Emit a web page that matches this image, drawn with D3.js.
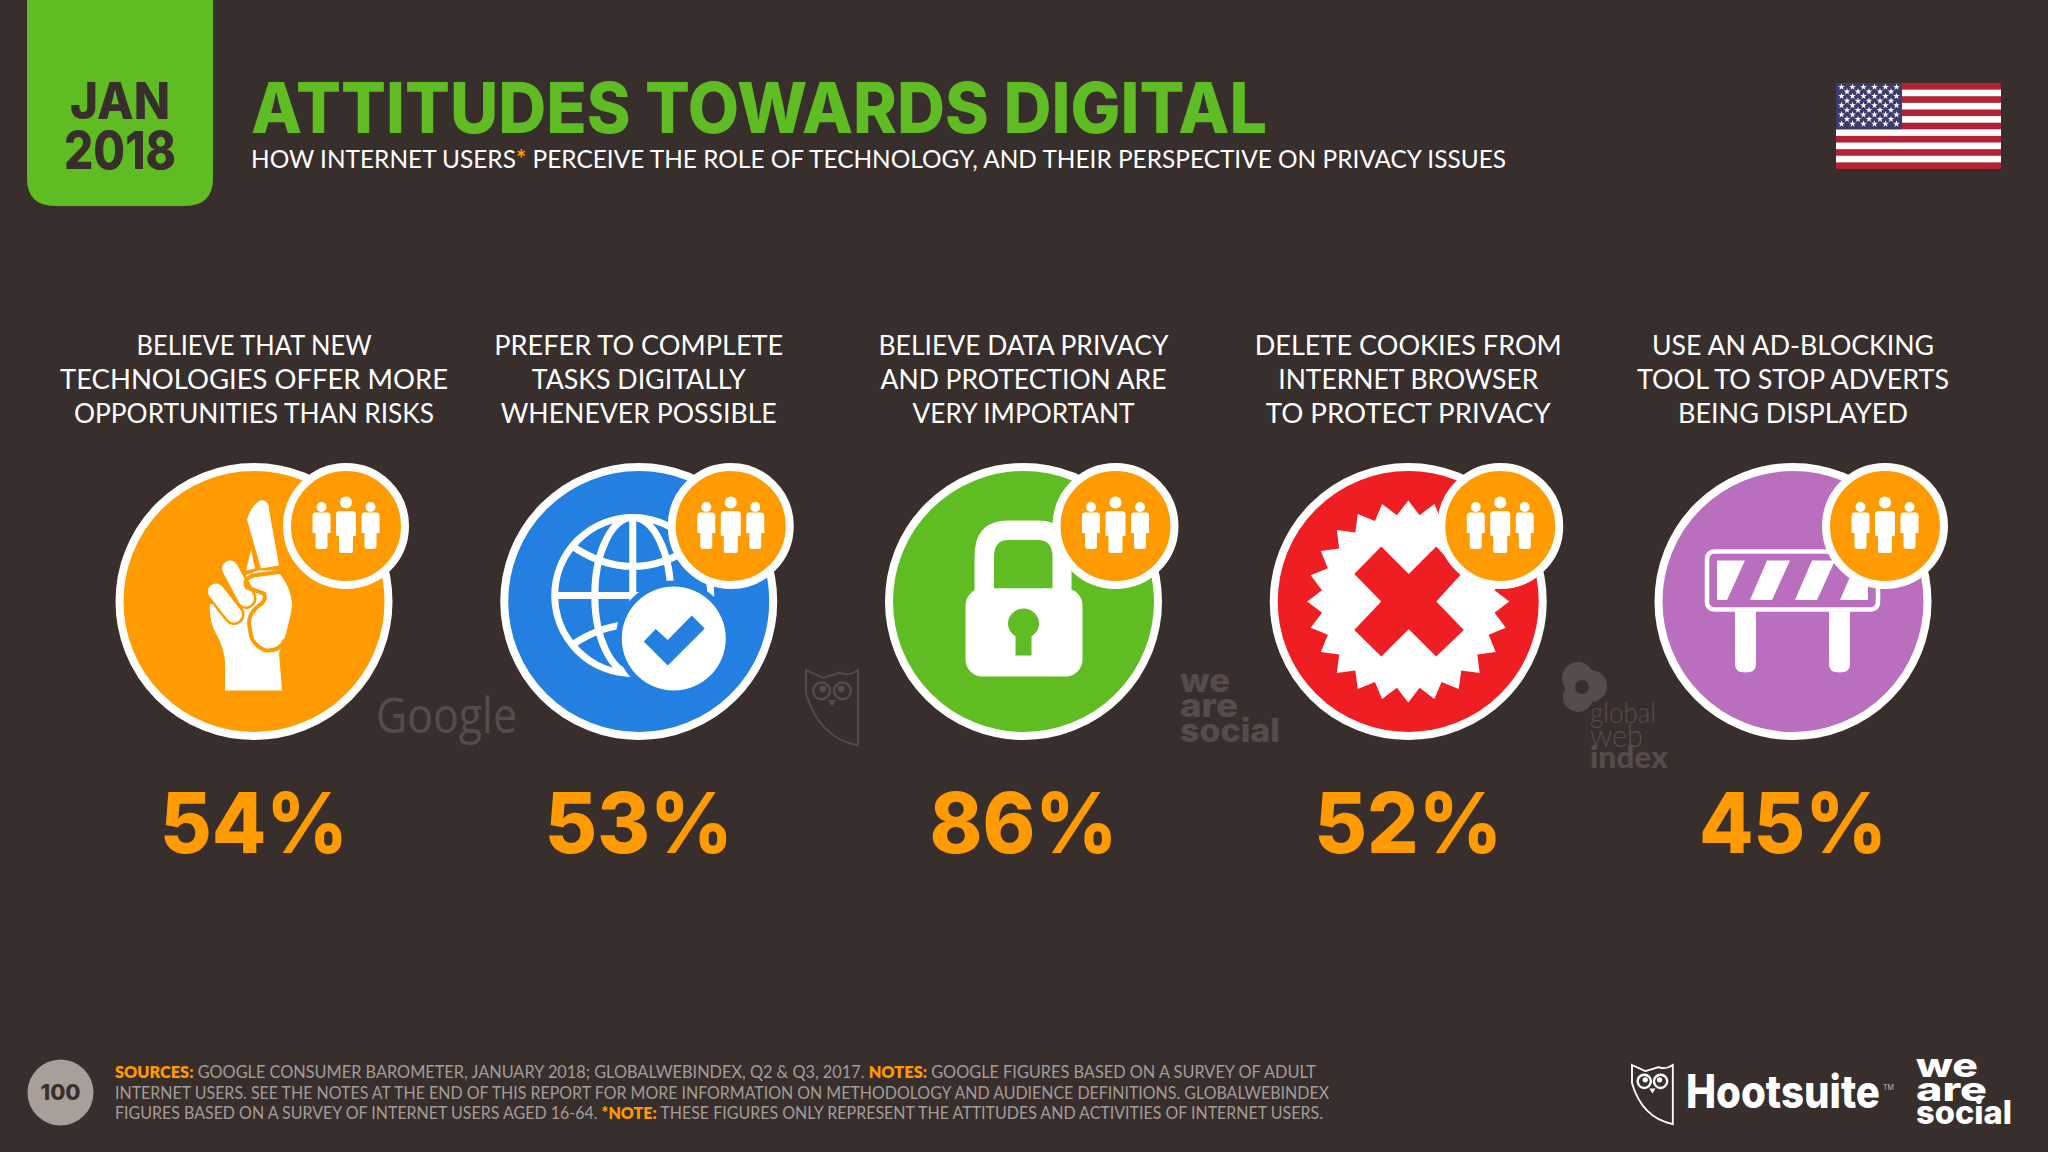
<!DOCTYPE html>
<html>
<head>
<meta charset="utf-8">
<script src="https://cdnjs.cloudflare.com/ajax/libs/d3/7.8.5/d3.min.js"></script>
<style>
html,body{margin:0;padding:0;background:#382f2d;}
svg{display:block;}
text{font-family:"Lato","Inter",sans-serif;}
</style>
</head>
<body>
<svg id="c" width="2048" height="1152"></svg>
<script>
const categories = ["believe","prefer","privacy","cookies","adblock"];
const values = [54,53,86,52,45];
const labels = [
  ["BELIEVE THAT NEW","TECHNOLOGIES OFFER MORE","OPPORTUNITIES THAN RISKS"],
  ["PREFER TO COMPLETE","TASKS DIGITALLY","WHENEVER POSSIBLE"],
  ["BELIEVE DATA PRIVACY","AND PROTECTION ARE","VERY IMPORTANT"],
  ["DELETE COOKIES FROM","INTERNET BROWSER","TO PROTECT PRIVACY"],
  ["USE AN AD-BLOCKING","TOOL TO STOP ADVERTS","BEING DISPLAYED"]
];
const labelWidths = [[235,388,360],[289,214,276],[290,286,222],[307,260,285],[282,312,230]];
const colors = ["#ff9a00","#2380e0","#5fbd23","#ee1e23","#b96fbd"];
const titleText = "ATTITUDES TOWARDS DIGITAL";
const subtitleParts = [["HOW INTERNET USERS",0],["*",1],[" PERCEIVE THE ROLE OF TECHNOLOGY, AND THEIR PERSPECTIVE ON PRIVACY ISSUES",0]];
const footerLines = [
  [["SOURCES:",1],[" GOOGLE CONSUMER BAROMETER, JANUARY 2018; GLOBALWEBINDEX, Q2 & Q3, 2017. ",0],["NOTES:",1],[" GOOGLE FIGURES BASED ON A SURVEY OF ADULT",0]],
  [["INTERNET USERS. SEE THE NOTES AT THE END OF THIS REPORT FOR MORE INFORMATION ON METHODOLOGY AND AUDIENCE DEFINITIONS. GLOBALWEBINDEX",0]],
  [["FIGURES BASED ON A SURVEY OF INTERNET USERS AGED 16-64. ",0],["*NOTE:",1],[" THESE FIGURES ONLY REPRESENT THE ATTITUDES AND ACTIVITIES OF INTERNET USERS.",0]]
];

const BG="#382f2d", GREEN="#5fbd23", ORANGE="#ff9a00", WHITE="#ffffff", MARK="#564d4b";
const svg=d3.select("#c");
svg.append("rect").attr("width",2048).attr("height",1152).attr("fill",BG);

function label(g,x,y,str,o){
  const t=g.append("text").attr("x",x).attr("y",y).text(str)
    .attr("font-size",o.size).attr("fill",o.fill||WHITE)
    .attr("font-weight",o.weight||400).attr("text-anchor",o.anchor||"start");
  if(o.family)t.style("font-family",o.family);
  if(o.len)t.attr("textLength",o.len).attr("lengthAdjust","spacingAndGlyphs");
  return t;
}
function rich(g,x,y,parts,o){
  const t=g.append("text").attr("x",x).attr("y",y).attr("font-size",o.size).attr("xml:space","preserve").style("white-space","pre");
  if(o.family)t.style("font-family",o.family);
  if(o.len)t.attr("textLength",o.len).attr("lengthAdjust","spacingAndGlyphs");
  parts.forEach(p=>t.append("tspan").text(p[0]).attr("fill",p[1]?ORANGE:o.fill)
     .attr("font-weight",p[1]?(o.hiWeight||700):(o.weight||400)));
  return t;
}

// date tab
svg.append("path").attr("fill",GREEN).attr("d","M27,0H213V178Q213,206 185,206H55Q27,206 27,178Z");
label(svg,120,119,"JAN",{size:51,fill:BG,weight:800,anchor:"middle",family:"Inter",len:100});
label(svg,120,169,"2018",{size:52,fill:BG,weight:800,anchor:"middle",family:"Inter",len:112});

// headings
label(svg,251,133,titleText,{size:70,fill:GREEN,weight:800,family:"Inter",len:1016});
rich(svg,251,168,subtitleParts,{size:25,fill:WHITE,weight:400,family:"Lato",len:1255});

// flag
(function(){
  const g=svg.append("g").attr("transform","translate(1836,83)");
  const w=165,h=86,sh=h/13;
  g.append("rect").attr("width",w).attr("height",h).attr("fill","#b22234").attr("rx",1);
  d3.range(1,13,2).forEach(i=>g.append("rect").attr("y",i*sh).attr("width",w).attr("height",sh).attr("fill","#fff"));
  g.append("rect").attr("width",66).attr("height",sh*7).attr("fill","#3c3b6e");
  const star=d3.symbol().type(d3.symbolStar).size(14);
  d3.range(9).forEach(r=>{
    const n=r%2?5:6;
    d3.range(n).forEach(c=>g.append("path").attr("d",star()).attr("fill","#fff")
      .attr("transform",`translate(${5.5+(r%2?5.5:0)+c*11},${4+r*4.6})`));
  });
})();

// columns
const xScale=d3.scalePoint().domain(categories).range([254,1793]);
const CY=601.5;

function poly(g,pts,fill){g.append("polygon").attr("points",pts.map(p=>p.join(",")).join(" ")).attr("fill",fill);}

const icons={
  believe(g,c){
    g.append("path").attr("fill",WHITE).attr("d","M-29,89 L28,89 L25,52 Q34,30 38,5 Q38,-14 23,-31 L4,-31 L-9,-26 L-18,-3 L-44,3 Q-45,20 -38,32 Q-30,46 -29,60 Z");
    g.append("path").attr("fill",WHITE).attr("d","M-7,-82 Q-3,-96 7,-101.5 Q15,-101 15,-92 L25,-36 L7,-33 Z");
    g.append("path").attr("fill",WHITE).attr("d","M-3,-52 L1,-33 L-8,-31 Z");
    [[-24,-33,-8,-3],[-38,-10,-20,13]].forEach(d=>{
      g.append("line").attr("x1",d[0]).attr("y1",d[1]).attr("x2",d[2]).attr("y2",d[3]).attr("stroke",c).attr("stroke-width",21).attr("stroke-linecap","round");
      g.append("line").attr("x1",d[0]).attr("y1",d[1]).attr("x2",d[2]).attr("y2",d[3]).attr("stroke",WHITE).attr("stroke-width",16).attr("stroke-linecap","round");
    });
    g.append("path").attr("fill","none").attr("stroke",c).attr("stroke-width",4)
      .attr("d","M28,-30 L-1,-26 Q-12,-22 -7,-14 L10,-8 Q13,-1 5,4 Q-8,14 -4,28 Q-3,44 12,49 Q26,50 31,38");
  },
  prefer(g,c){
    const gl=g.append("g").attr("fill","none").attr("stroke",WHITE).attr("stroke-width",7);
    gl.append("circle").attr("cx",-6).attr("cy",-6).attr("r",78);
    gl.append("ellipse").attr("cx",-6).attr("cy",-6).attr("rx",38).attr("ry",78);
    gl.append("line").attr("x1",-6).attr("y1",-84).attr("x2",-6).attr("y2",72);
    gl.append("line").attr("x1",-84).attr("y1",-6).attr("x2",72).attr("y2",-6);
    gl.append("path").attr("d","M-66,-55 Q-6,-15 54,-55");
    gl.append("path").attr("d","M-66,43 Q-6,3 54,43");
    g.append("circle").attr("cx",35).attr("cy",37).attr("r",58).attr("fill",c);
    g.append("circle").attr("cx",35).attr("cy",37).attr("r",52).attr("fill",WHITE);
    poly(g,[[5,40],[17,27.5],[29,38.5],[53,14],[66,27],[29,64]],c);
  },
  privacy(g,c){
    g.append("path").attr("fill",WHITE).attr("fill-rule","evenodd")
      .attr("d","M-49,-10 V-45 Q-49,-81 -15,-81 H14 Q48,-81 48,-45 V-10 Z M-29.5,-13 H29 V-45 Q29,-61.5 14,-61.5 H-15 Q-29.5,-61.5 -29.5,-45 Z");
    g.append("rect").attr("x",-58).attr("y",-13).attr("width",117).attr("height",88).attr("rx",17).attr("fill",WHITE);
    g.append("ellipse").attr("cx",0).attr("cy",22).attr("rx",15.5).attr("ry",15).attr("fill",c);
    g.append("rect").attr("x",-8).attr("y",24).attr("width",16).attr("height",30).attr("fill",c);
  },
  cookies(g,c){
    const n=24, pts=[];
    d3.range(n*2).forEach(i=>{
      const a=i*Math.PI/n-Math.PI/2, r=i%2?87:101;
      pts.push([Math.cos(a)*r,Math.sin(a)*r]);
    });
    poly(g,pts,WHITE);
    poly(g,[[-27,-55],[0.5,-27.5],[28,-55],[53,-27.5],[28,0],[55.5,28.5],[28,55],[0.5,27.8],[-27,55],[-54,28.5],[-27,0],[-54,-27.5]],c);
  },
  adblock(g,c){
    g.append("rect").attr("x",-86).attr("y",-50).attr("width",171).attr("height",58).attr("rx",7).attr("fill","none").attr("stroke",WHITE).attr("stroke-width",4.5);
    [[[-76,-41],[-48,-41],[-66,-1.5],[-76,-1.5]],[[-26,-41],[-3,-41],[-21,-1.5],[-43,-1.5]],[[19,-41],[42,-41],[24,-1.5],[2,-1.5]],[[64,-41],[75,-41],[75,-1.5],[47,-1.5]]]
      .forEach(p=>poly(g,p,WHITE));
    [-47.5,46.5].forEach(x=>g.append("path").attr("fill",WHITE)
      .attr("d",`M${x-10.5},10 H${x+10.5} V63 Q${x+10.5},71 ${x},71 Q${x-10.5},71 ${x-10.5},63 Z`));
  }
};

function people(g){
  g.append("path").attr("fill",WHITE).attr("d",
    "M-6.5,-15 H6.5 Q10,-15 10,-11 V10 H7 V25 Q7,27 5,27 H-5 Q-7,27 -7,25 V10 H-10 V-11 Q-10,-15 -6.5,-15Z");
  g.append("circle").attr("cy",-23.5).attr("r",6).attr("fill",WHITE);
  [-24.5,24.5].forEach(x=>{
    const p=g.append("g").attr("transform",`translate(${x},0)`);
    p.append("path").attr("fill",WHITE).attr("d",
      "M-6,-13.5 H6 Q9,-13.5 9,-10 V7 H6 V20 Q6,23 3,23 H-3 Q-6,23 -6,20 V7 H-9 V-10 Q-9,-13.5 -6,-13.5Z");
    p.append("circle").attr("cy",-19).attr("r",5).attr("fill",WHITE);
  });
}

// watermarks sit below the marks
const wm=svg.append("g");
label(wm,376,733,"Google",{size:49,fill:MARK,weight:400,family:"Open Sans",len:141});
function owl(g,x,y,s,col,sw){
  const o=g.append("g").attr("transform",`translate(${x},${y}) scale(${s})`);
  o.append("path").attr("fill","none").attr("stroke",col).attr("stroke-width",sw)
    .attr("d","M0,0 L13,6 Q20,4 26,2 Q33,5 40,0 L40,58 Q10,52 0,18 Z");
  [12,28].forEach(cx=>{
    o.append("circle").attr("cx",cx).attr("cy",16).attr("r",6.5).attr("fill","none").attr("stroke",col).attr("stroke-width",sw*1.3);
    o.append("circle").attr("cx",cx+(cx<20?1:-1)).attr("cy",14.5).attr("r",2.6).attr("fill",col);
  });
  o.append("path").attr("fill",col).attr("d","M17,23 H23 L20,28 Z");
}
owl(wm,806,670,1.3,MARK,1.4);
[["we",692,50],["are",717,58],["social",742,100]].forEach(d=>label(wm,1180,d[1],d[0],{size:33,fill:MARK,weight:800,family:"Inter",len:d[2]}));
(function(){
  const g=wm.append("g");
  [[1578,678,16],[1591,686,16],[1578,697,15]].forEach(d=>g.append("circle").attr("cx",d[0]).attr("cy",d[1]).attr("r",d[2]).attr("fill",MARK));
  g.append("circle").attr("cx",1582).attr("cy",687).attr("r",7).attr("fill",BG);
  label(g,1590,723,"global",{size:30,fill:MARK,weight:300,family:"Lato",len:66});
  label(g,1590,747,"web",{size:32,fill:MARK,weight:300,family:"Lato",len:53});
  label(g,1590,768,"index",{size:30,fill:MARK,weight:900,family:"Lato",len:78});
})();

categories.forEach((k,i)=>{
  const cx=xScale(k);
  const col=svg.append("g").attr("class","col");
  labels[i].forEach((line,j)=>label(col,cx,355+j*34,line,{size:27,fill:WHITE,weight:400,anchor:"middle",family:"Lato",len:labelWidths[i][j]}));
  const g=col.append("g").attr("transform",`translate(${cx},${CY})`);
  g.append("circle").attr("r",134.5).attr("fill",colors[i]).attr("stroke",WHITE).attr("stroke-width",8);
  icons[k](g,colors[i]);
  const b=g.append("g").attr("transform","translate(92,-75.5)");
  b.append("circle").attr("r",59).attr("fill",ORANGE).attr("stroke",WHITE).attr("stroke-width",8);
  people(b);
  label(col,cx,853,values[i]+"%",{size:84,fill:ORANGE,weight:800,anchor:"middle",family:"Inter",len:188});
});

// footer
svg.append("circle").attr("cx",60.5).attr("cy",1092.5).attr("r",33).attr("fill","#a89f99");
label(svg,60.5,1100,"100",{size:22,fill:BG,weight:800,anchor:"middle",family:"Inter"});
const footWidths=[1201,1214,1208];
footerLines.forEach((l,i)=>rich(svg,115,1078+i*20.5,l,{size:17,fill:"#a59c97",weight:400,family:"Lato",hiWeight:800,len:footWidths[i]}));

// brand logos
owl(svg,1632,1065,1.02,WHITE,1.8);
label(svg,1686,1108,"Hootsuite",{size:46,fill:WHITE,weight:800,family:"Inter",len:194});
label(svg,1883,1090,"TM",{size:7,fill:"#bbb",weight:400,family:"Inter"});
[["we",1077,62],["are",1101,71],["social",1124,96]].forEach(d=>label(svg,1916,d[1],d[0],{size:33,fill:WHITE,weight:800,family:"Inter",len:d[2]}));
</script>
</body>
</html>
